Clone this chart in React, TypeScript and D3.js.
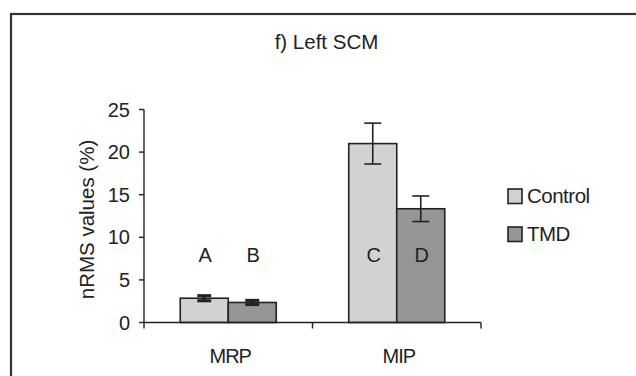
import React from "react";
import * as d3 from "d3";

const categories = ["MRP", "MIP"];
const series = ["Control", "TMD"];
const controlValues = [2.85, 21.0];
const controlErrors = [0.3, 2.4];
const tmdValues = [2.35, 13.35];
const tmdErrors = [0.25, 1.5];
const barLetters = [["A", "B"], ["C", "D"]];
const yTicks = [0, 5, 10, 15, 20, 25];
const title = "f) Left SCM";
const yTitle = "nRMS values (%)";

const W = 636;
const H = 376;
const colors: Record<string, string> = { Control: "#d2d2d2", TMD: "#969696" };
const font = "'Liberation Sans', Arial, sans-serif";
const ink = "#222";

export default function App() {
  const y = d3.scaleLinear().domain([0, 25]).range([322.5, 109.5]);
  const x0 = d3.scaleBand<string>().domain(categories).range([144, 481]).padding(0);
  const x1 = d3
    .scaleBand<string>()
    .domain(series)
    .range([0, x0.bandwidth()])
    .paddingInner(0)
    .paddingOuter(0.755);

  const valuesBySeries: Record<string, number[]> = { Control: controlValues, TMD: tmdValues };
  const errorsBySeries: Record<string, number[]> = { Control: controlErrors, TMD: tmdErrors };

  const bars: JSX.Element[] = [];
  const errs: JSX.Element[] = [];
  const letters: JSX.Element[] = [];
  categories.forEach((c, ci) => {
    series.forEach((s, si) => {
      const v = valuesBySeries[s][ci];
      const e = errorsBySeries[s][ci];
      const bx = (x0(c) ?? 0) + (x1(s) ?? 0);
      const bw = x1.bandwidth();
      const cx = bx + bw / 2;
      bars.push(
        <rect
          key={`b${ci}${si}`}
          x={bx}
          y={y(v)}
          width={bw}
          height={y(0) - y(v)}
          fill={colors[s]}
          stroke={ink}
          strokeWidth={1.6}
        />
      );
      const capW = e < 1 ? 14 : 17;
      const sw = e < 1 ? 3 : 1.6;
      errs.push(
        <g key={`e${ci}${si}`} stroke={ink} strokeWidth={sw} fill="none">
          <line x1={cx} x2={cx} y1={y(v + e)} y2={y(v - e)} />
          <line x1={cx - capW / 2} x2={cx + capW / 2} y1={y(v + e)} y2={y(v + e)} />
          <line x1={cx - capW / 2} x2={cx + capW / 2} y1={y(v - e)} y2={y(v - e)} />
        </g>
      );
      letters.push(
        <text
          key={`l${ci}${si}`}
          x={cx + 1}
          y={262}
          textAnchor="middle"
          fontSize={20}
          fontFamily={font}
          fill={ink}
        >
          {barLetters[ci][si]}
        </text>
      );
    });
  });

  const catTicks = [144, ...categories.map((c) => (x0(c) ?? 0) + x0.bandwidth())];

  return (
    <svg
      width={W}
      height={H}
      style={{ position: "absolute", left: 0, top: 0, background: "#fff" }}
    >
      <rect x={0} y={0} width={W} height={H} fill="#fff" />
      <rect x={11} y={14} width={W + 20} height={H + 20} fill="none" stroke="#333" strokeWidth={2.2} />
      <text x={326.5} y={48.5} textAnchor="middle" fontSize={20.5} fontFamily={font} fill={ink}>
        {title}
      </text>
      {bars}
      {errs}
      {letters}
      {/* y axis */}
      <line x1={144} x2={144} y1={y(25)} y2={y(0)} stroke={ink} strokeWidth={1.4} />
      {yTicks.map((t) => (
        <g key={`yt${t}`}>
          <line x1={139} x2={144} y1={y(t)} y2={y(t)} stroke={ink} strokeWidth={1.4} />
          <text
            x={130}
            y={y(t)}
            dy="0.35em"
            textAnchor="end"
            fontSize={20}
            fontFamily={font}
            fill={ink}
          >
            {t}
          </text>
        </g>
      ))}
      {/* x axis */}
      <line x1={144} x2={481} y1={y(0)} y2={y(0)} stroke={ink} strokeWidth={1.4} />
      {catTicks.map((tx, i) => (
        <line key={`xt${i}`} x1={tx} x2={tx} y1={y(0)} y2={y(0) + 6} stroke={ink} strokeWidth={1.4} />
      ))}
      {categories.map((c) => (
        <text
          key={`cl${c}`}
          x={(x0(c) ?? 0) + x0.bandwidth() / 2 + 2}
          y={363}
          textAnchor="middle"
          fontSize={20}
          fontFamily={font}
          fill={ink}
          letterSpacing={-1}
        >
          {c}
        </text>
      ))}
      <text
        transform={`translate(94,219.5) rotate(-90)`}
        textAnchor="middle"
        fontSize={20.5}
        fontFamily={font}
        fill={ink}
      >
        {yTitle}
      </text>
      {/* legend */}
      {series.map((s, i) => (
        <g key={`lg${s}`} transform={`translate(508,${189 + i * 38})`}>
          <rect x={0} y={0} width={14} height={14.5} fill={colors[s]} stroke={ink} strokeWidth={1.6} />
          <text x={19} y={14} fontSize={20.5} fontFamily={font} fill={ink} letterSpacing={-0.5}>
            {s}
          </text>
        </g>
      ))}
    </svg>
  );
}
